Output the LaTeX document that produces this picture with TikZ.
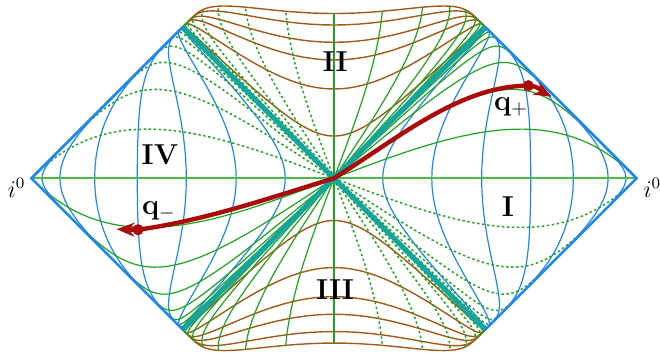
\documentclass[tikz,border=0pt]{standalone}
\usetikzlibrary{arrows.meta,calc}
\usepackage{xcolor}
\definecolor{rblue}{RGB}{30,136,240}
\definecolor{rbrown}{RGB}{160,90,25}
\definecolor{rgreen}{RGB}{30,165,30}
\definecolor{lgreen}{RGB}{75,185,75}
\definecolor{rteal}{RGB}{20,165,160}
\definecolor{dred}{RGB}{170,10,10}

\begin{document}
\begin{tikzpicture}[
  x=2.659cm, y=2.659cm,
  declare function={gd(\z)=atan(sinh(max(min(\z,9),-9)))/90;},
  rcurve/.style={rblue, line width=0.6pt},
  scurve/.style={rbrown, line width=0.7pt},
  tline/.style={rgreen, line width=0.6pt},
  tdots/.style={rgreen, line width=0.75pt, dash pattern=on 1.2pt off 1.3pt},
  axisline/.style={lgreen, line width=1pt},
  horizon/.style={rteal, line width=2.5pt},
  scri/.style={rblue, line width=1.3pt},
  traj/.style={dred, line width=2.2pt},
  qdot/.style={circle, fill=dred, inner sep=0pt, minimum size=5.6pt},
  region/.style={font=\Large\bfseries},
  >={Stealth[length=9pt,width=7pt]}
]
\useasboundingbox (-2.2075,-1.1811) rectangle (2.1546,1.1784);

\coordinate (O) at (0,0);
\coordinate (iL) at (-2,0);
\coordinate (iR) at (2,0);
\coordinate (tL) at (-1,1);
\coordinate (tR) at (1,1);
\coordinate (bL) at (-1,-1);
\coordinate (bR) at (1,-1);
\coordinate (sTop) at (0,{2*gd(0.984)});
\coordinate (sBot) at (0,{-2*gd(0.984)});

% r = const dentro de la singularidad (II y III)
\foreach \k in {0.984,0.896,0.773,0.657,0.481,0.221}{
  \draw[scurve] plot[domain=-6.5:6.5, samples=131]
    ({gd(\k*exp(\x))-gd(\k*exp(-\x))}, {gd(\k*exp(\x))+gd(\k*exp(-\x))});
  \draw[scurve] plot[domain=-6.5:6.5, samples=131]
    ({gd(\k*exp(\x))-gd(\k*exp(-\x))}, {-gd(\k*exp(\x))-gd(\k*exp(-\x))});
}

% r = const fuera (I y IV)
\foreach \k in {0.256,0.531,0.855,1.266,1.798,2.604,3.594}{
  \draw[rcurve] plot[domain=-6.5:6.5, samples=131]
    ({gd(\k*exp(\x))+gd(\k*exp(-\x))}, {gd(\k*exp(\x))-gd(\k*exp(-\x))});
  \draw[rcurve] plot[domain=-6.5:6.5, samples=131]
    ({-gd(\k*exp(\x))-gd(\k*exp(-\x))}, {gd(\k*exp(\x))-gd(\k*exp(-\x))});
}

% t = const
\foreach \t [evaluate=\t as \wa using -6-\t, evaluate=\t as \wb using 2.6+\t] in {0.4,0.8,1.2,1.6,2.0,2.4,2.8,3.2}{
  \foreach \sg/\ms in {1/-1,-1/1}{
    \draw[tline] plot[domain=\wa:\wb, samples=121]
      ({\sg*(gd(exp(\x+\t))+gd(exp(\x-\t)))}, {\sg*(gd(exp(\x+\t))-gd(exp(\x-\t)))});
    \draw[tdots] plot[domain=\wa:\wb, samples=121]
      ({\sg*(gd(exp(\x+\t))+gd(exp(\x-\t)))}, {\ms*(gd(exp(\x+\t))-gd(exp(\x-\t)))});
    \draw[tline] plot[domain=\wa:-0.016, samples=81]
      ({\sg*(gd(exp(\x+\t))-gd(exp(\x-\t)))}, {\sg*(gd(exp(\x+\t))+gd(exp(\x-\t)))});
    \draw[tdots] plot[domain=\wa:-0.016, samples=81]
      ({\ms*(gd(exp(\x+\t))-gd(exp(\x-\t)))}, {\sg*(gd(exp(\x+\t))+gd(exp(\x-\t)))});
  }
}

\draw[tline] (sTop) -- (sBot);
\draw[axisline] (iL) -- (iR);

% horizontes y scri
\draw[horizon] (bL) -- (tR);
\draw[horizon] (tL) -- (bR);
\draw[scri] (tL) -- (iL) -- (bL);
\draw[scri] (tR) -- (iR) -- (bR);

% trayectoria
\coordinate (qme) at (-1.437,-0.337);
\coordinate (qpe) at (1.439,0.539);
\draw[traj] (-1.295,-0.340) coordinate (qmc) .. controls +(8:0.45) and +(197:0.45) .. (O)
  .. controls +(32:0.5) and +(180:0.45) .. (1.284,0.612) coordinate (qpc);
\draw[traj,->] (qpc) to[out=0,in=152] (qpe);
\draw[traj,->] (qmc) -- (qme);
\node[qdot] (qm) at (qmc) {};
\node[qdot] (qp) at (qpc) {};

\node[region] (rI) at (1.150,-0.190) {I};
\node[region] (rII) at (0.007,0.768) {II};
\node[region] (rIII) at (0.007,-0.734) {III};
\node[region] (rIV) at (-1.150,0.154) {IV};
\node[font=\Large] (lqp) at (1.170,0.472) {$\mathbf{q}_+$};
\node[font=\Large] (lqm) at (-1.157,-0.217) {$\mathbf{q}_-$};
\node[font=\large] (li0L) at (-2.098,-0.064) {$i^0$};
\node[font=\large] (li0R) at (2.105,-0.064) {$i^0$};
\end{tikzpicture}
\end{document}
